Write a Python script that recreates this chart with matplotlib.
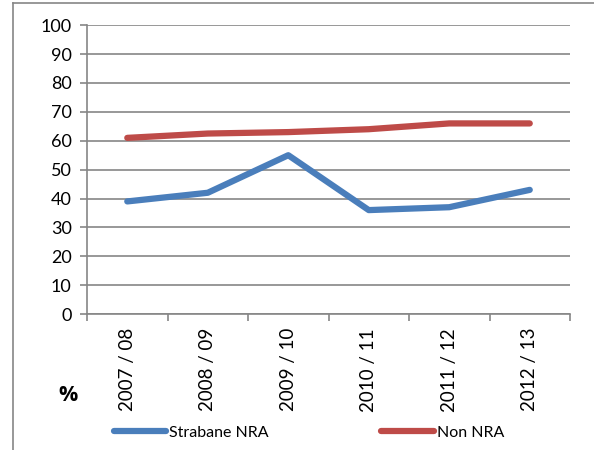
import matplotlib.pyplot as plt
from matplotlib.lines import Line2D

years = ['2007 / 08', '2008 / 09', '2009 / 10', '2010 / 11', '2011 / 12', '2012 / 13']
strabane = [39, 42, 55, 36, 37, 43]
non_nra = [61, 62.5, 63, 64, 66, 66]

plt.rcParams['font.family'] = ['Lato', 'DejaVu Sans']
grid_c = '#868686'

fig = plt.figure(figsize=(5.94, 4.5), dpi=100)
ax = fig.add_axes([0.1465, 0.302, 0.8131, 0.642])

x = range(len(years))
ax.plot(x, strabane, color='#4a7ebb', linewidth=4.5, solid_capstyle='round',
        solid_joinstyle='round', label='Strabane NRA')
ax.plot(x, non_nra, color='#be4b48', linewidth=4.5, solid_capstyle='round',
        solid_joinstyle='round', label='Non NRA')

ax.set_ylim(0, 100)
ax.set_xlim(-0.5, len(years) - 0.5)
ax.set_yticks(range(0, 101, 10))
ax.yaxis.grid(True, color=grid_c, linewidth=1.2)
ax.set_axisbelow(True)

# category labels at centres, tick marks at boundaries
ax.set_xticks(list(x))
ax.set_xticklabels(years, rotation=90, fontsize=13.5)
ax.set_xticks([i - 0.5 for i in range(len(years) + 1)], minor=True)
ax.tick_params(axis='x', which='major', length=0, pad=10)
ax.tick_params(axis='x', which='minor', length=5, color=grid_c, width=1.2, direction='out')
ax.tick_params(axis='y', length=5, color=grid_c, width=1.2, labelsize=13, pad=6)

for s in ['top', 'right']:
    ax.spines[s].set_visible(False)
for s in ['left', 'bottom']:
    ax.spines[s].set_color(grid_c)
    ax.spines[s].set_linewidth(1.2)

fig.text(0.115, 0.122, '%', fontsize=15.5, fontweight='bold', ha='center', va='center',
         family=['Open Sans', 'DejaVu Sans'])

fig.legend(loc='center', bbox_to_anchor=(0.52, 0.038), ncol=2, frameon=False,
           fontsize=11.5, handlelength=3.3, handletextpad=0.2, columnspacing=7.0)

# chart border (only left and top edges visible)
fig.add_artist(Line2D([0.022, 0.022], [0, 0.993], color=grid_c, linewidth=1.2,
                      transform=fig.transFigure))
fig.add_artist(Line2D([0.022, 1.0], [0.993, 0.993], color=grid_c, linewidth=1.2,
                      transform=fig.transFigure))

fig.savefig('out.png', dpi=100)
